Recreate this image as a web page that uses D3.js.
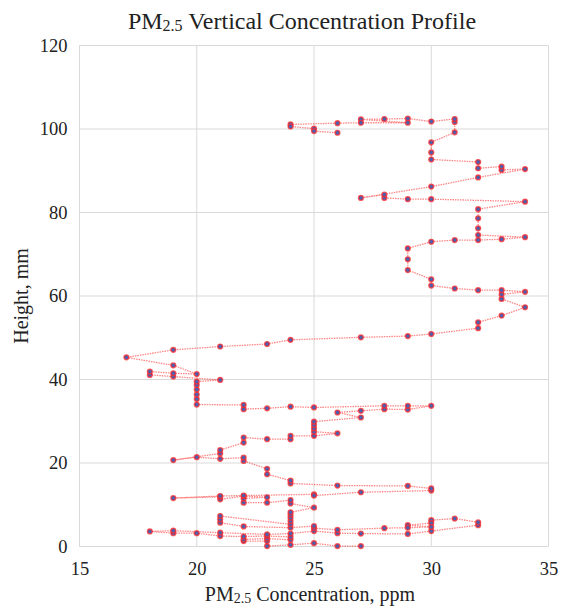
<!DOCTYPE html>
<html>
<head>
<meta charset="utf-8">
<script src="https://cdn.jsdelivr.net/npm/d3@7"></script>
<style>
  html, body { margin: 0; padding: 0; background: #fff; }
  svg { display: block; }
  text { font-family: "Liberation Serif", "Times New Roman", serif; fill: #222; }
</style>
</head>
<body>
<svg id="chart" width="561" height="608"></svg>
<script>
// PM2.5 concentration (ppm) along the profile path, in path order
const concentration = [
  27,26,25,24,23,23,22,22,23,24,24,23,22,21,20,19,18,19,21,23,24,25,26,27,29,30,
  32,32,31,30,30,29,30,29,28,26,25,25,24,22,21,21,21,24,24,24,24,24,25,24,24,23,
  22,22,23,22,21,21,19,21,22,25,25,27,30,30,29,26,24,24,23,23,22,22,21,20,19,21,
  21,22,22,23,24,24,25,26,25,25,25,25,27,26,27,28,29,30,29,28,25,24,23,22,22,20,
  20,20,20,20,20,21,19,18,18,19,20,19,17,19,21,23,24,27,29,30,32,32,33,34,33,33,
  34,33,32,31,30,30,29,29,29,30,31,32,33,34,32,32,32,32,34,30,29,28,28,27,30,32,
  34,33,33,32,32,30,30,30,31,31,31,30,29,28,27,29,27,26,24,24,25,25,26
];
// Height (mm) of each point, same order
const height = [
  0.1,0.1,0.8,0.4,0.1,1.3,1.3,1.7,1.9,1.6,2.3,2.5,2.4,2.5,3.2,3.2,3.6,3.8,3.3,2.9,3.1,3.7,3.2,3.1,3.0,3.7,
  5.1,5.8,6.7,6.3,5.6,5.1,4.7,4.5,4.4,4.0,4.4,4.9,4.5,4.8,5.7,6.5,7.3,5.3,6.1,6.9,7.6,8.2,9.3,10.3,11.1,10.5,
  10.5,11.5,11.8,12.1,11.3,11.9,11.6,12.1,12.2,12.5,12.2,13.0,13.4,13.9,14.5,14.6,15.1,15.8,17.3,18.6,20.5,21.3,21.0,21.4,20.7,22.3,
  23.1,24.9,26.1,25.7,25.7,26.5,26.5,27.1,27.5,28.3,29.1,29.9,30.9,32.1,32.5,32.9,32.8,33.7,33.7,33.7,33.3,33.5,33.1,32.9,33.9,34.0,
  35.3,36.4,37.6,38.7,39.5,39.9,40.7,41.1,41.9,41.5,41.3,43.4,45.3,47.1,47.9,48.5,49.5,50.1,50.4,50.9,52.3,53.7,55.3,57.3,59.3,60.4,
  61.0,61.4,61.4,61.8,62.5,64.0,66.2,68.8,71.4,73.0,73.4,73.4,73.6,74.1,74.6,76.2,78.6,80.8,82.6,83.2,83.2,83.5,84.3,83.5,86.2,88.4,
  90.4,90.2,91.0,90.6,92.1,92.7,94.4,96.8,99.2,101.7,102.4,101.8,102.5,102.4,102.3,101.5,101.5,101.4,101.1,100.6,100.1,99.5,99.1
];
const xTicks = [15, 20, 25, 30, 35];
const yTicks = [0, 20, 40, 60, 80, 100, 120];

const svg = d3.select("#chart");
const W = 561, H = 608;
const m = { left: 79.5, right: 12.5, top: 45.5, bottom: 61.5 };
const iw = W - m.left - m.right, ih = H - m.top - m.bottom;

const x = d3.scaleLinear().domain([15, 35]).range([m.left, m.left + iw]);
const y = d3.scaleLinear().domain([0, 120]).range([m.top + ih, m.top]);

// grid
const g = svg.append("g");
g.selectAll("line.v").data(xTicks).join("line")
  .attr("x1", d => x(d)).attr("x2", d => x(d))
  .attr("y1", y(0)).attr("y2", y(120))
  .attr("stroke", "#d9d9d9").attr("stroke-width", 1);
g.selectAll("line.h").data(yTicks).join("line")
  .attr("x1", x(15)).attr("x2", x(35))
  .attr("y1", d => y(d)).attr("y2", d => y(d))
  .attr("stroke", "#d9d9d9").attr("stroke-width", 1);

// axes (labels only)
const xAxis = d3.axisBottom(x).tickValues(xTicks).tickSize(0).tickPadding(15);
svg.append("g").attr("transform", `translate(0,${y(0)})`).call(xAxis)
  .call(s => s.select(".domain").remove())
  .selectAll("text").style("font-family", '"Liberation Serif", serif').style("font-size", "18.5px").attr("fill", "#333");
const yAxis = d3.axisLeft(y).tickValues(yTicks).tickSize(0).tickPadding(12);
svg.append("g").attr("transform", `translate(${x(15)},0)`).call(yAxis)
  .call(s => s.select(".domain").remove())
  .selectAll("text").style("font-family", '"Liberation Serif", serif').style("font-size", "18.5px").attr("fill", "#333");

// data
const pts = concentration.map((c, i) => ({ c, h: height[i] }));
const line = d3.line().x(d => x(d.c)).y(d => y(d.h));
svg.append("path").datum(pts)
  .attr("d", line)
  .attr("fill", "none")
  .attr("stroke", "#ff2020")
  .attr("stroke-opacity", 0.55)
  .attr("stroke-width", 1.3)
  .attr("stroke-dasharray", "1.5,1");

svg.append("g").selectAll("circle").data(pts).join("circle")
  .attr("cx", d => x(d.c)).attr("cy", d => y(d.h))
  .attr("r", 2.4)
  .attr("fill", "#4b5fb0")
  .attr("stroke", "#ff2a2a")
  .attr("stroke-opacity", 0.75)
  .attr("stroke-width", 1.4);

// title
const title = svg.append("text").attr("x", 302).attr("y", 29)
  .attr("text-anchor", "middle").style("font-size", "24px").attr("fill", "#111");
title.append("tspan").text("PM");
title.append("tspan").text("2.5").style("font-size", "16px").attr("dy", 2);
title.append("tspan").text(" Vertical Concentration Profile").attr("dy", -2);

// x title
const xt = svg.append("text").attr("x", 310).attr("y", 601)
  .attr("text-anchor", "middle").style("font-size", "20px").attr("fill", "#222");
xt.append("tspan").text("PM");
xt.append("tspan").text("2.5").style("font-size", "14px").attr("dy", 2);
xt.append("tspan").text(" Concentration, ppm").attr("dy", -2);

// y title
svg.append("text")
  .attr("transform", `translate(28,${(y(0) + y(120)) / 2}) rotate(-90)`)
  .attr("text-anchor", "middle").style("font-size", "20px").attr("fill", "#222")
  .text("Height, mm");
</script>
</body>
</html>
